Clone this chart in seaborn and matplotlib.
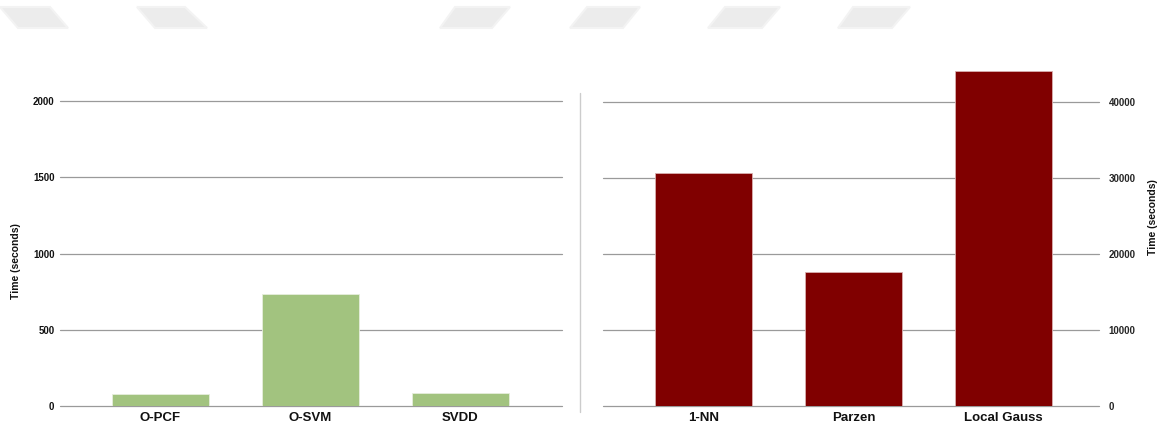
import matplotlib
matplotlib.use("Agg")
import matplotlib.pyplot as plt
from matplotlib.patches import Polygon
from matplotlib.lines import Line2D
import seaborn as sns
import pandas as pd

# Training times of the one-class classifiers
fast_methods = ["O-PCF", "O-SVM", "SVDD"]
fast_times = [79, 734, 87]

slow_methods = ["1-NN", "Parzen", "Local Gauss"]
slow_times = [30700, 17600, 44100]

left_ticks = [0, 500, 1000, 1500, 2000]
right_ticks = [0, 10000, 20000, 30000, 40000]
ylabel = "Time (seconds)"

GREEN = "#a2c37f"
MAROON = "#800000"
GRID = "#9a9a9a"

sns.set_theme(style="white")
plt.rcParams["font.family"] = ["Liberation Sans", "DejaVu Sans"]
plt.rcParams["font.weight"] = "bold"

W, H = 1171, 430
fig = plt.figure(figsize=(W / 100, H / 100), dpi=100)
fig.patch.set_facecolor("white")


def px_box(x0, x1, ytop, ybot):
    return [x0 / W, 1 - ybot / H, (x1 - x0) / W, (ybot - ytop) / H]


ax_l = fig.add_axes(px_box(60, 562, 60, 406))
ax_r = fig.add_axes(px_box(603, 1099, 60, 406))

df_fast = pd.DataFrame({"method": fast_methods, "time": fast_times})
df_slow = pd.DataFrame({"method": slow_methods, "time": slow_times})

sns.barplot(data=df_fast, x="method", y="time", color=GREEN, saturation=1,
            width=0.647, ax=ax_l, zorder=3, edgecolor="#e6eedc", linewidth=0.6)
sns.barplot(data=df_slow, x="method", y="time", color=MAROON, saturation=1,
            width=0.647, ax=ax_r, zorder=3, edgecolor="#d9b0b0", linewidth=0.6)

for ax, ticks, top, xl in [
    (ax_l, left_ticks, 2269, (-0.67, 2.677)),
    (ax_r, right_ticks, 45530, (-0.67, 2.637)),
]:
    ax.set_ylim(0, top)
    ax.set_xlim(*xl)
    ax.set_yticks(ticks)
    ax.set_yticklabels([str(t) for t in ticks])
    for s in ax.spines.values():
        s.set_visible(False)
    for t in ticks:
        ax.axhline(t, color=GRID, lw=0.9, zorder=1, clip_on=False)
    ax.tick_params(axis="both", length=0)
    ax.tick_params(axis="x", pad=4, labelsize=9.5)
    ax.tick_params(axis="y", labelsize=7)
    for lab in ax.get_xticklabels() + ax.get_yticklabels():
        lab.set_fontweight("bold")
        lab.set_color("#111111")
    ax.set_xlabel("")
    ax.set_facecolor("none")

ax_l.tick_params(axis="y", pad=4)
ax_l.set_ylabel(ylabel, fontsize=7.5, fontweight="bold", color="#111111")
ax_l.yaxis.set_label_coords(-0.077, 0.42)

ax_r.yaxis.tick_right()
ax_r.tick_params(axis="y", pad=7)
ax_r.yaxis.set_label_position("right")
ax_r.set_ylabel(ylabel, fontsize=7.5, fontweight="bold", color="#111111",
                rotation=90)
ax_r.yaxis.set_label_coords(1.098, 0.545)

# divider between the two panels
fig.add_artist(Line2D([580 / W, 580 / W], [1 - 93 / H, 1 - 412 / H],
                      color="#cccccc", lw=1.0, transform=fig.transFigure))

# decorative header band
shapes = [
    [(0, 7), (50, 7), (68, 28), (18, 28)],
    [(137, 7), (185, 7), (207, 28), (155, 28)],
    [(455, 7), (510, 7), (492, 28), (440, 28)],
    [(587, 7), (640, 7), (623, 28), (570, 28)],
    [(725, 7), (780, 7), (762, 28), (708, 28)],
    [(853, 7), (910, 7), (892, 28), (838, 28)],
]
for pts in shapes:
    fig.add_artist(Polygon([(x / W, 1 - y / H) for x, y in pts], closed=True,
                           facecolor="#ececec", edgecolor="#f3f3f3", lw=1.5,
                           transform=fig.transFigure))

fig.savefig("out.png", dpi=100, facecolor="white")
